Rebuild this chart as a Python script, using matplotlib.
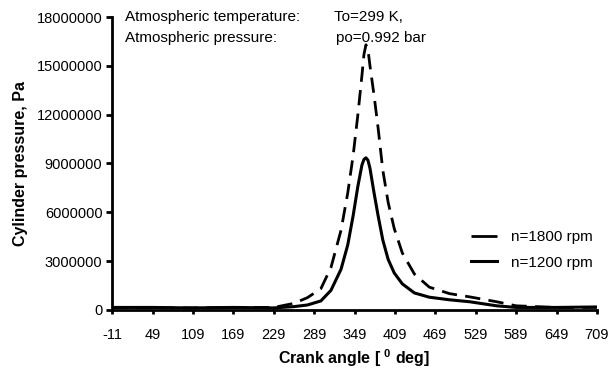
import matplotlib
matplotlib.use("Agg")
import matplotlib.pyplot as plt

plt.rcParams["font.family"] = ["Liberation Sans", "DejaVu Sans"]
plt.rcParams["mathtext.fontset"] = "custom"
plt.rcParams["mathtext.rm"] = "Liberation Sans"
plt.rcParams["mathtext.bf"] = "Liberation Sans:bold"
plt.rcParams["axes.unicode_minus"] = False

# crank angle (deg) and cylinder pressure (Pa)
angle = [-11, 49, 109, 169, 229, 259, 279, 299, 314, 329, 339, 347, 354,
         360, 363, 366, 369, 372, 378, 384, 391, 399, 408, 420, 438, 460,
         490, 520, 560, 589, 649, 709]
p_1200 = [0.15e6, 0.15e6, 0.12e6, 0.15e6, 0.12e6, 0.2e6, 0.3e6, 0.55e6,
          1.2e6, 2.5e6, 4.0e6, 5.8e6, 7.6e6, 8.9e6, 9.25e6, 9.35e6, 9.2e6,
          8.7e6, 7.2e6, 5.8e6, 4.3e6, 3.1e6, 2.27e6, 1.6e6, 1.04e6, 0.78e6,
          0.62e6, 0.5e6, 0.25e6, 0.15e6, 0.15e6, 0.18e6]
p_1800 = [0.15e6, 0.12e6, 0.12e6, 0.15e6, 0.15e6, 0.4e6, 0.75e6, 1.3e6,
          2.6e6, 4.9e6, 7.2e6, 9.5e6, 12.0e6, 14.4e6, 15.7e6, 16.3e6,
          16.0e6, 15.0e6, 13.2e6, 11.2e6, 8.6e6, 6.6e6, 5.0e6, 3.5e6, 2.2e6,
          1.4e6, 1.0e6, 0.8e6, 0.5e6, 0.25e6, 0.15e6, 0.15e6]

xticks = list(range(-11, 710, 60))
yticks = list(range(0, 18000001, 3000000))

fig = plt.figure(figsize=(6.16, 3.72), dpi=100)
ax = fig.add_axes([0.182, 0.167, 0.787, 0.787])

ax.plot(angle, p_1800, color="black", lw=2.0, linestyle=(0, (5.5, 3)),
        label="n=1800 rpm")
ax.plot(angle, p_1200, color="black", lw=2.2, label="n=1200 rpm")

ax.set_xlim(-11, 709)
ax.set_ylim(0, 18000000)
ax.set_xticks(xticks)
ax.set_yticks(yticks)
ax.set_yticklabels([str(v) for v in yticks])
ax.tick_params(labelsize=10.5, width=2, direction="out")
ax.tick_params(axis="y", length=4, pad=3)
ax.tick_params(axis="x", length=3, pad=10)
for s in ["top", "right"]:
    ax.spines[s].set_visible(False)
for s in ["left", "bottom"]:
    ax.spines[s].set_linewidth(2)

ax.set_xlabel(r"Crank angle [ $^{\mathbf{0}}$ deg]", fontsize=11.5,
              fontweight="bold", labelpad=4)
ax.set_ylabel("Cylinder pressure, Pa", fontsize=11.5, fontweight="bold",
              labelpad=6)

fig.text(0.203, 0.955, "Atmospheric temperature:", fontsize=11, va="center")
fig.text(0.542, 0.955, "To=299 K,", fontsize=11, va="center")
fig.text(0.203, 0.898, "Atmospheric pressure:", fontsize=11, va="center")
fig.text(0.546, 0.898, "po=0.992 bar", fontsize=11, va="center")

leg = ax.legend(loc="lower right", bbox_to_anchor=(1.02, 0.09), frameon=False,
                fontsize=11, handlelength=1.7, handletextpad=0.9,
                labelspacing=0.75)
# legend sample shows a single long dash, as in the original
leg.get_lines()[0].set_dashes((9.5, 3))

fig.savefig("out.png", dpi=100)
